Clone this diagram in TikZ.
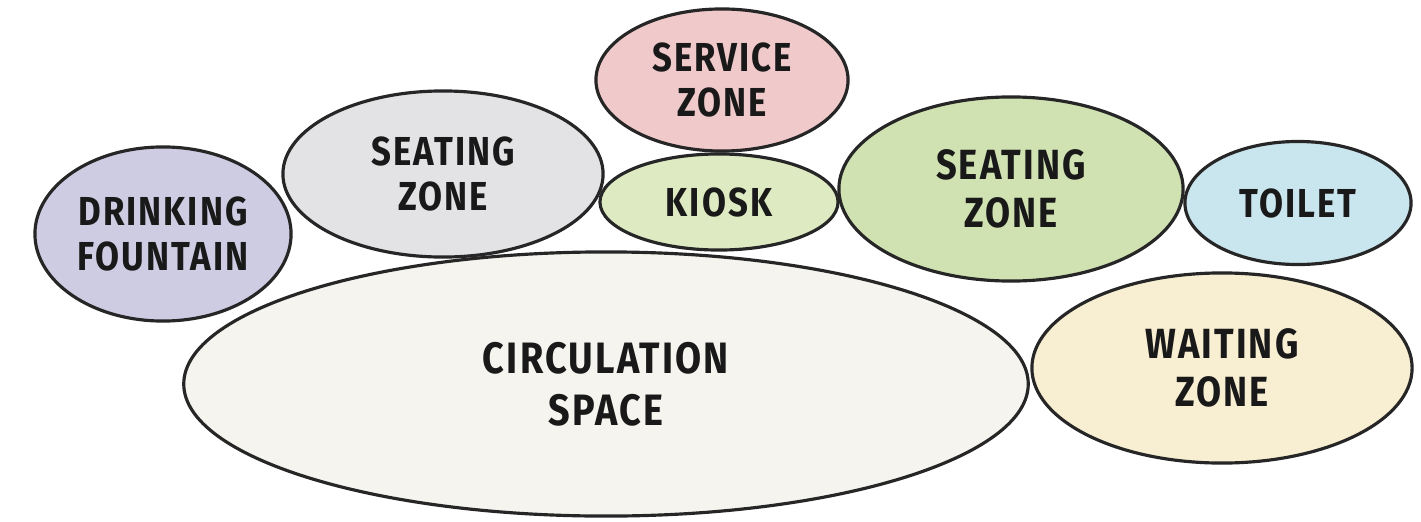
\documentclass[tikz,border=0pt]{standalone}
\usepackage{fontspec}
\setsansfont{Fira Sans}[FakeStretch=0.86,LetterSpace=5]
\usepackage{tikz}
\usetikzlibrary{shapes.geometric}
\usepackage{xcolor}

\definecolor{fountaincol}{HTML}{CDCCE3}
\definecolor{greyseatcol}{HTML}{E3E3E6}
\definecolor{servicecol}{HTML}{F0C9CA}
\definecolor{kioskcol}{HTML}{DEEBC2}
\definecolor{greenseatcol}{HTML}{D0E2B2}
\definecolor{toiletcol}{HTML}{C9E5EE}
\definecolor{circcol}{HTML}{F6F4EF}
\definecolor{waitcol}{HTML}{F8EFD3}

\begin{document}
\begin{tikzpicture}[
	x=0.01cm, y=-0.01cm,
	zone/.style={
		ellipse,
		draw=black!85,
		line width=0.9pt,
		inner sep=0pt,
		align=center,
		font=\sffamily\bfseries\fontsize{11.5}{12.9}\selectfont,
		text=black!90
	},
	bigzone/.style={
		zone,
		font=\sffamily\bfseries\fontsize{12}{13.7}\selectfont
	}]

	\useasboundingbox (0,0) rectangle (1421,521);

	\node[zone, fill=circcol, minimum width=8.44cm, minimum height=2.64cm,
		font=\sffamily\bfseries\fontsize{12.5}{14.8}\selectfont] (circ) at (606,384) {CIRCULATION\\SPACE};
	\node[zone, fill=fountaincol, minimum width=2.56cm, minimum height=1.74cm] (fountain) at (163,234) {DRINKING\\FOUNTAIN};
	\node[zone, fill=greyseatcol, minimum width=3.2cm, minimum height=1.66cm] (seatA) at (443,174) {SEATING\\ZONE};
	\node[zone, fill=servicecol, minimum width=2.52cm, minimum height=1.42cm] (service) at (722,80) {SERVICE\\ZONE};
	\node[zone, fill=kioskcol, minimum width=2.38cm, minimum height=0.96cm] (kiosk) at (719,202) {KIOSK};
	\node[bigzone, fill=greenseatcol, minimum width=3.44cm, minimum height=1.84cm] (seatB) at (1011,189) {SEATING\\ZONE};
	\node[zone, fill=toiletcol, minimum width=2.26cm, minimum height=1.23cm] (toilet) at (1298,203) {TOILET};
	\node[bigzone, fill=waitcol, minimum width=3.8cm, minimum height=1.9cm] (wait) at (1222,368) {WAITING\\ZONE};
\end{tikzpicture}
\end{document}
